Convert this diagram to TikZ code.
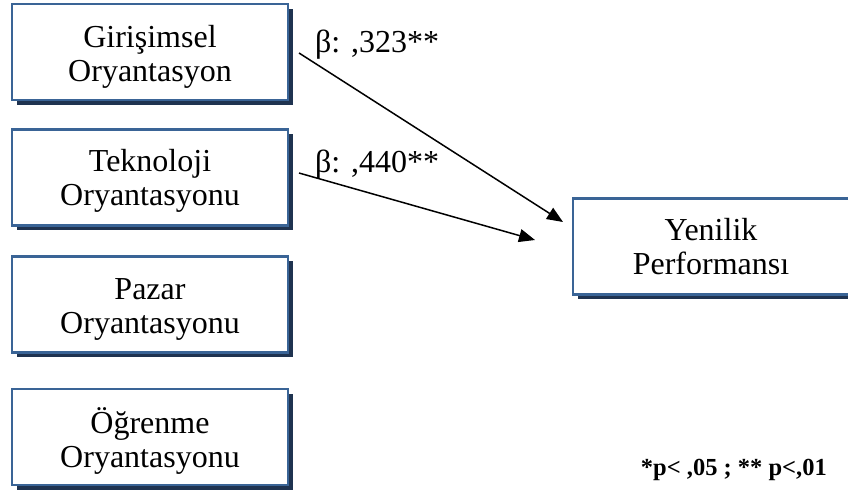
\documentclass[tikz,border=0pt]{standalone}
\usepackage{fontspec}
\setmainfont{Liberation Serif}
\usetikzlibrary{shadows,arrows.meta}
\definecolor{boxblue}{HTML}{3A6496}
\definecolor{shadownavy}{HTML}{1F3350}
\tikzset{
  varbox/.style={draw=boxblue, line width=2.6pt, fill=white, minimum width=276pt, minimum height=96pt,
    inner sep=0pt,
    drop shadow={shadow xshift=4.5pt, shadow yshift=-4.5pt, fill=shadownavy, opacity=1}},
  boxtext/.style={align=center, inner sep=0pt, font=\fontsize{32}{34}\selectfont},
  patharrow/.style={line width=1.5pt, -{Triangle[length=16pt,width=13pt]}},
  coef/.style={anchor=base west, inner sep=0pt, font=\fontsize{32}{34}\selectfont}
}
\begin{document}
\begin{tikzpicture}[x=1pt,y=-1pt]
\useasboundingbox (0,0) rectangle (848,490);
\node[varbox] (go) at (150,52) {};
\node[varbox] (to) at (150,177.5) {};
\node[varbox] (po) at (150,304.5) {};
\node[varbox] (oo) at (150,437) {};
\node[varbox] (yp) at (711,246.5) {};
\node[boxtext] (got) at ([yshift=-4.5pt]go.center) {Girişimsel\\Oryantasyon};
\node[boxtext] (tot) at ([yshift=-3.5pt]to.center) {Teknoloji\\Oryantasyonu};
\node[boxtext] (pot) at ([yshift=-4.5pt]po.center) {Pazar\\Oryantasyonu};
\node[boxtext] (oot) at ([yshift=-3.5pt]oo.center) {Öğrenme\\Oryantasyonu};
\node[boxtext] (ypt) at ([yshift=-0.5pt]yp.center) {Yenilik\\Performansı};
\coordinate (s1) at (299,53);
\coordinate (e1) at (563,222);
\coordinate (s2) at (299,173);
\coordinate (e2) at (535,240);
\draw[patharrow] (s1) -- (e1);
\draw[patharrow] (s2) -- (e2);
\node[coef] (b1) at (315,52) {β: ,323**};
\node[coef] (b2) at (315,172) {β: ,440**};
\node[anchor=base east, inner sep=0pt, font=\fontsize{24.5}{27}\selectfont\bfseries] (sig) at (827,475) {*p< ,05 ; ** p<,01};
\end{tikzpicture}
\end{document}
